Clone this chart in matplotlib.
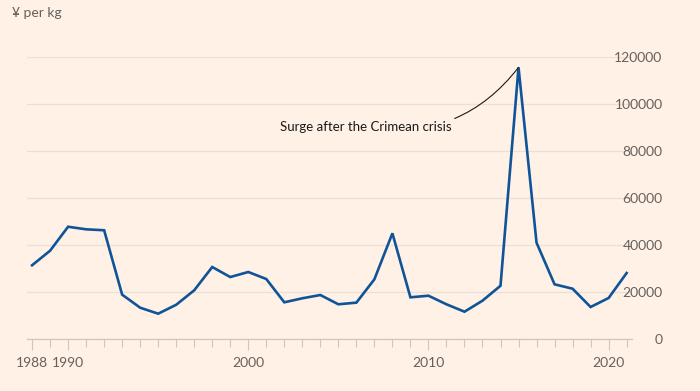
import matplotlib
matplotlib.use("Agg")
import matplotlib.pyplot as plt
from matplotlib.ticker import FixedLocator, MultipleLocator


YEARS = list(range(1988, 2022))
PRICE_YEN_PER_KG = [
    31500, 37700, 47900, 46800, 46400, 19000, 13450, 10900, 14700, 20850,
    30760, 26500, 28640, 25660, 15740, 17450, 18850, 14900, 15600, 25530,
    45100, 17870, 18550, 14900, 11750, 16430, 22800, 115700, 41100, 23400,
    21530, 13750, 17570, 28200,
]

X_TICKS = [1988, 1990, 2000, 2010, 2020]
Y_TICKS = [0, 20000, 40000, 60000, 80000, 100000, 120000]

ANNOTATION_TEXT = "Surge after the Crimean crisis"
ANNOTATION_YEAR = 2015

BG = "#FFF1E5"
LINE = "#0F5499"
GRID = "#EBE0D6"
TEXT = "#66605C"


def main() -> None:
    plt.rcParams["font.family"] = ["Lato", "DejaVu Sans"]

    fig = plt.figure(figsize=(7.0, 3.91), dpi=100, facecolor=BG)
    ax = fig.add_axes([0.0386, 0.1322, 0.8643, 0.7213])
    ax.set_facecolor(BG)

    ax.plot(YEARS, PRICE_YEN_PER_KG, color=LINE, linewidth=1.9, solid_joinstyle="miter", zorder=3)

    ax.set_xlim(1987.72, 2021.3)
    ax.set_ylim(0, 120000)

    ax.yaxis.tick_right()
    ax.yaxis.set_major_locator(FixedLocator(Y_TICKS))
    ax.set_yticklabels([str(v) for v in Y_TICKS])
    ax.tick_params(axis="y", length=0, pad=22, labelsize=10, labelcolor=TEXT)
    for lab in ax.get_yticklabels():
        lab.set_horizontalalignment("right")
    ax.yaxis.grid(True, color=GRID, linewidth=0.9, zorder=0)

    ax.xaxis.set_major_locator(FixedLocator(X_TICKS))
    ax.xaxis.set_minor_locator(MultipleLocator(1))
    ax.tick_params(axis="x", which="major", length=8, width=0.8, color="#CEC6BF",
                   labelsize=10, labelcolor=TEXT, pad=5)
    ax.tick_params(axis="x", which="minor", length=6, width=0.8, color="#CEC6BF")

    for side in ("top", "left", "right"):
        ax.spines[side].set_visible(False)
    ax.spines["bottom"].set_color("#CEC6BF")
    ax.spines["bottom"].set_linewidth(0.9)

    peak = PRICE_YEN_PER_KG[YEARS.index(ANNOTATION_YEAR)]
    ax.annotate(
        ANNOTATION_TEXT,
        xy=(ANNOTATION_YEAR, peak),
        xytext=(2011.3, 90500),
        ha="right", va="center",
        fontsize=9.5, color="#1A1A1A",
        arrowprops=dict(arrowstyle="-", color="#1A1A1A", linewidth=0.8,
                        connectionstyle="arc3,rad=0.3", shrinkA=0, shrinkB=0),
    )

    fig.text(12 / 700, 1 - 13 / 391, "¥ per kg", fontsize=10, color=TEXT, va="center", ha="left")

    fig.savefig("out.png", dpi=100, facecolor=BG)
    plt.close(fig)


if __name__ == "__main__":
    main()
